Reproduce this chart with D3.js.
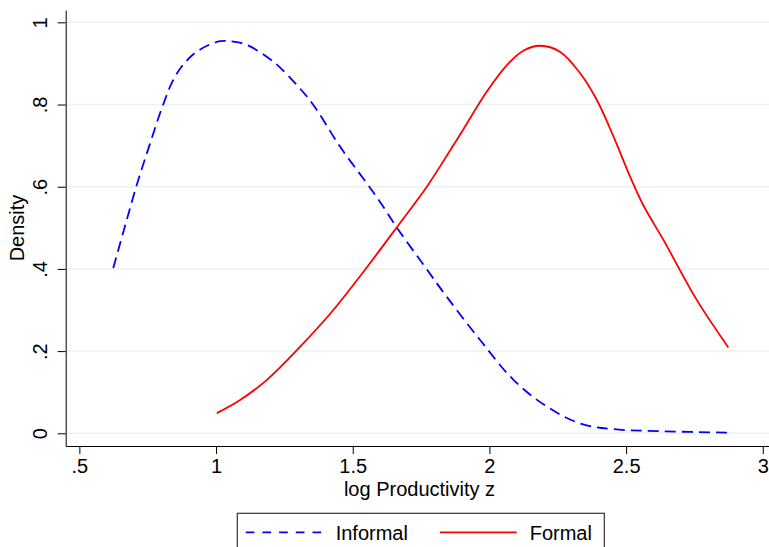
<!DOCTYPE html>
<html>
<head>
<meta charset="utf-8">
<script src="https://cdn.jsdelivr.net/npm/d3@7"></script>
<style>
  html, body { margin: 0; padding: 0; background: #fff; }
  svg { display: block; font-family: "Liberation Sans", Arial, sans-serif; }
</style>
</head>
<body>
<svg id="chart" width="769" height="547"></svg>
<script>
// ---- data ----
const informalX = [0.624, 0.666, 0.708, 0.756, 0.805, 0.845, 0.890, 0.942, 1.015, 1.064, 1.113, 1.210, 1.296, 1.356, 1.454, 1.552, 1.600, 1.661, 1.759, 1.844, 1.966, 2.088, 2.210, 2.332, 2.454, 2.637, 2.874];
const informalY = [0.402, 0.502, 0.600, 0.700, 0.797, 0.862, 0.905, 0.934, 0.954, 0.953, 0.945, 0.904, 0.847, 0.799, 0.697, 0.608, 0.563, 0.501, 0.410, 0.332, 0.227, 0.130, 0.065, 0.024, 0.010, 0.005, 0.0015];
const formalX = [1.003, 1.088, 1.186, 1.308, 1.429, 1.545, 1.661, 1.771, 1.856, 1.905, 1.990, 2.064, 2.124, 2.186, 2.259, 2.332, 2.393, 2.454, 2.515, 2.563, 2.637, 2.759, 2.874];
const formalY = [0.049, 0.081, 0.130, 0.211, 0.300, 0.398, 0.501, 0.600, 0.688, 0.740, 0.831, 0.896, 0.931, 0.943, 0.928, 0.876, 0.811, 0.722, 0.624, 0.555, 0.470, 0.324, 0.209];
const xTicks = [0.5, 1, 1.5, 2, 2.5, 3];
const xTickLabels = [".5", "1", "1.5", "2", "2.5", "3"];
const yTicks = [0, 0.2, 0.4, 0.6, 0.8, 1];
const yTickLabels = ["0", ".2", ".4", ".6", ".8", "1"];
const seriesNames = ["Informal", "Formal"];
const xTitle = "log Productivity z";
const yTitle = "Density";

// ---- layout ----
const pLeft = 65.7, pRight = 774, pTop = 10, pBottom = 446;
const svg = d3.select("#chart");
const x = d3.scaleLinear().domain([0.45, 3.041]).range([pLeft, pRight]);
const y = d3.scaleLinear().domain([-0.0309, 1.030]).range([pBottom, pTop]);

// gridlines
svg.append("g").selectAll("line").data(yTicks).join("line")
  .attr("x1", pLeft).attr("x2", pRight)
  .attr("y1", d => y(d)).attr("y2", d => y(d))
  .attr("stroke", "#eaf2f3").attr("stroke-width", 1.5);

// axes
const xAxis = svg.append("g").attr("transform", `translate(0,${pBottom})`)
  .call(d3.axisBottom(x).tickValues(xTicks).tickSize(8).tickSizeOuter(0)
    .tickFormat((d, i) => xTickLabels[i]));
xAxis.select(".domain").attr("stroke", "#000");
xAxis.selectAll(".tick line").attr("stroke", "#000");
xAxis.selectAll(".tick text")
  .attr("y", 27.3).attr("dy", 0)
  .attr("font-size", 20).attr("fill", "#000")
  .attr("font-family", "Liberation Sans, Arial, sans-serif");

const yAxis = svg.append("g").attr("transform", `translate(${pLeft},0)`)
  .call(d3.axisLeft(y).tickValues(yTicks).tickSize(8).tickSizeOuter(0)
    .tickFormat((d, i) => yTickLabels[i]));
yAxis.select(".domain").attr("stroke", "#000");
yAxis.selectAll(".tick line").attr("stroke", "#000");
yAxis.selectAll(".tick text")
  .attr("transform", "rotate(-90)")
  .attr("x", 0).attr("y", -18.7).attr("dy", 0)
  .attr("text-anchor", "middle")
  .attr("font-size", 20).attr("fill", "#000")
  .attr("font-family", "Liberation Sans, Arial, sans-serif");

// axis titles
svg.append("text")
  .attr("x", 419.5).attr("y", 495.7)
  .attr("text-anchor", "middle").attr("font-size", 20).attr("fill", "#000")
  .text(xTitle);
svg.append("text")
  .attr("transform", `translate(24,${(pTop + pBottom) / 2}) rotate(-90)`)
  .attr("text-anchor", "middle").attr("font-size", 20).attr("fill", "#000")
  .text(yTitle);

// lines
const line = d3.line().x(d => x(d[0])).y(d => y(d[1])).curve(d3.curveCatmullRom.alpha(0.5));
const informal = informalX.map((v, i) => [v, informalY[i]]);
const formal = formalX.map((v, i) => [v, formalY[i]]);

svg.append("path").datum(informal)
  .attr("d", line).attr("fill", "none")
  .attr("stroke", "#0000ff").attr("stroke-width", 1.8)
  .attr("stroke-dasharray", "11,6");
svg.append("path").datum(formal)
  .attr("d", line).attr("fill", "none")
  .attr("stroke", "#ff0000").attr("stroke-width", 1.8);

// legend
const lg = svg.append("g");
lg.append("rect")
  .attr("x", 237.3).attr("y", 513.3).attr("width", 367).attr("height", 50)
  .attr("fill", "#fff").attr("stroke", "#333").attr("stroke-width", 1.2);
lg.append("line")
  .attr("x1", 245.7).attr("x2", 322).attr("y1", 532.3).attr("y2", 532.3)
  .attr("stroke", "#0000ff").attr("stroke-width", 1.8)
  .attr("stroke-dasharray", "8.7,8");
lg.append("text").attr("x", 335.7).attr("y", 539.5)
  .attr("font-size", 20).attr("fill", "#000").text(seriesNames[0]);
lg.append("line")
  .attr("x1", 440).attr("x2", 516.7).attr("y1", 532.3).attr("y2", 532.3)
  .attr("stroke", "#ff0000").attr("stroke-width", 1.8);
lg.append("text").attr("x", 529.7).attr("y", 539.5)
  .attr("font-size", 20).attr("fill", "#000").text(seriesNames[1]);
</script>
</body>
</html>
